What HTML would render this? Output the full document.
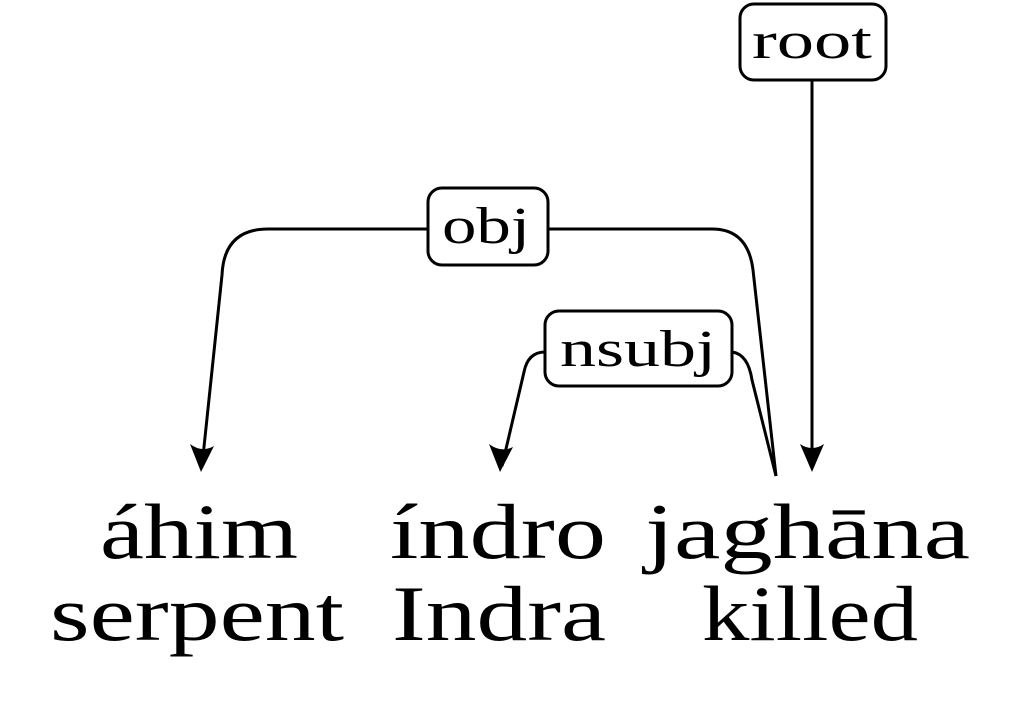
<!DOCTYPE html>
<html><head><meta charset="utf-8"><style>
html,body{margin:0;padding:0;background:#fff;}
svg{display:block}
text{font-family:"Liberation Serif",serif;fill:#000}
</style></head><body>
<svg width="1024" height="709" viewBox="0 0 1024 709" xmlns="http://www.w3.org/2000/svg">
<g fill="none" stroke="#000" stroke-width="3">
<line x1="812" y1="80" x2="812" y2="468"/>
<path d="M428 229 H268 Q224 229 222 275 L202 466"/>
<path d="M548 229 H712 Q748 229 753 270 L776 476"/>
<path d="M545 352 Q528 352 524 372 L502 466"/>
<path d="M732 352 Q748 354 752 380 L776 476"/>
</g>
<g fill="#000">
<path d="M812 472 L800 444 Q812 452 824 444 Z"/>
<path d="M201 472 L190 444 Q202 453 214 446 Z"/>
<path d="M500 472 L489 444 Q501 453 513 447 Z"/>
</g>
<g fill="#fff" stroke="#000" stroke-width="3">
<rect x="740" y="4" width="146" height="76" rx="14"/>
<rect x="428" y="188" width="120" height="77" rx="14"/>
<rect x="545" y="311" width="187" height="75" rx="14"/>
</g>
<g font-size="52" lengthAdjust="spacingAndGlyphs">
<text x="752" y="58" textLength="120" lengthAdjust="spacingAndGlyphs">root</text>
<text x="442" y="243" textLength="88" lengthAdjust="spacingAndGlyphs">obj</text>
<text x="560" y="366" textLength="156" lengthAdjust="spacingAndGlyphs">nsubj</text>
</g>
<g font-size="78">
<text x="100" y="558" textLength="198" lengthAdjust="spacingAndGlyphs">áhim</text>
<text x="390" y="558" textLength="216" lengthAdjust="spacingAndGlyphs">índro</text>
<text x="645" y="558" textLength="325" lengthAdjust="spacingAndGlyphs">jaghāna</text>
<text x="50" y="640" textLength="294" lengthAdjust="spacingAndGlyphs">serpent</text>
<text x="392" y="640" textLength="214" lengthAdjust="spacingAndGlyphs">Indra</text>
<text x="702" y="640" textLength="216" lengthAdjust="spacingAndGlyphs">killed</text>
</g>
</svg>
</body></html>
